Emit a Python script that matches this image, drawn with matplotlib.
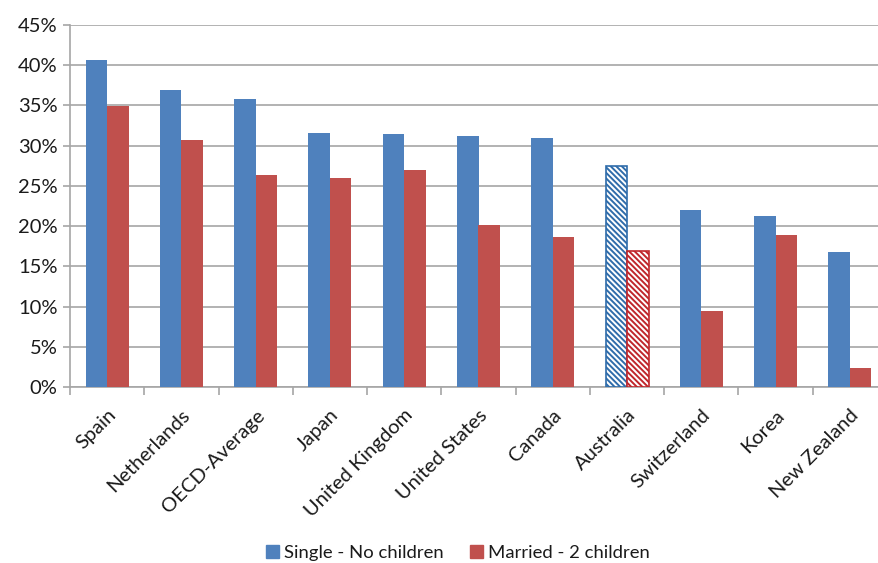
import matplotlib
matplotlib.use("Agg")
import matplotlib.pyplot as plt
import numpy as np
from matplotlib.patches import Patch

plt.rcParams['font.family'] = ['Lato', 'DejaVu Sans']
plt.rcParams['hatch.linewidth'] = 1.4

countries = ["Spain", "Netherlands", "OECD-Average", "Japan", "United Kingdom",
             "United States", "Canada", "Australia", "Switzerland", "Korea",
             "New Zealand"]
single_no_children = [40.6, 36.9, 35.8, 31.6, 31.4, 31.2, 31.0, 27.5, 22.0, 21.3, 16.8]
married_2_children = [34.9, 30.7, 26.3, 26.0, 27.0, 20.2, 18.7, 16.9, 9.5, 18.9, 2.3]
highlight = "Australia"

BLUE = "#4F81BD"
RED = "#C0504D"
HATCH_BLUE = "#2F6CAA"
HATCH_RED = "#C0262B"
GRID = "#A6A6A6"
TEXT = "#1a1a1a"

fig = plt.figure(figsize=(8.79, 5.63), dpi=100)
ax = fig.add_axes([70 / 879, 1 - 387 / 563, 817 / 879, 362 / 563])

x = np.arange(len(countries))
w = 0.29
for i, c in enumerate(countries):
    if c == highlight:
        ax.bar(x[i] - w / 2, single_no_children[i], w, facecolor="white",
               edgecolor=HATCH_BLUE, hatch="\\" * 6, linewidth=1.2, zorder=3)
        ax.bar(x[i] + w / 2, married_2_children[i], w, facecolor="white",
               edgecolor=HATCH_RED, hatch="\\" * 6, linewidth=1.2, zorder=3)
    else:
        ax.bar(x[i] - w / 2, single_no_children[i], w, color=BLUE, zorder=3)
        ax.bar(x[i] + w / 2, married_2_children[i], w, color=RED, zorder=3)

ax.set_xlim(-0.5, len(countries) - 0.5)
ax.set_ylim(0, 45)
ax.set_yticks(np.arange(0, 46, 5))
ax.set_yticklabels([f"{v}%" for v in range(0, 46, 5)], fontsize=14.5, color=TEXT)
ax.yaxis.grid(True, color=GRID, linewidth=1.2, zorder=0)
ax.tick_params(axis="y", length=5, color=GRID, width=1.2, pad=4)

ax.set_xticks(x)
ax.set_xticklabels(countries, rotation=45, ha="right", rotation_mode="anchor",
                   fontsize=14.5, color=TEXT)
ax.set_xticks(np.arange(-0.5, len(countries), 1), minor=True)
ax.tick_params(axis="x", which="major", length=0, pad=14)
ax.tick_params(axis="x", which="minor", length=6, color=GRID, width=1.2)

for s in ["top", "right"]:
    ax.spines[s].set_visible(False)
for s in ["left", "bottom"]:
    ax.spines[s].set_color(GRID)
    ax.spines[s].set_linewidth(1.2)

handles = [Patch(color=BLUE, label="Single - No children"),
           Patch(color=RED, label="Married - 2 children")]
fig.legend(handles=handles, loc="center", bbox_to_anchor=(458 / 879, 1 - 553 / 563),
           ncol=2, frameon=False, fontsize=13.3, handlelength=0.7, handleheight=0.7,
           handletextpad=0.3, columnspacing=1.4, labelcolor=TEXT)

fig.savefig("out.png", dpi=100)
